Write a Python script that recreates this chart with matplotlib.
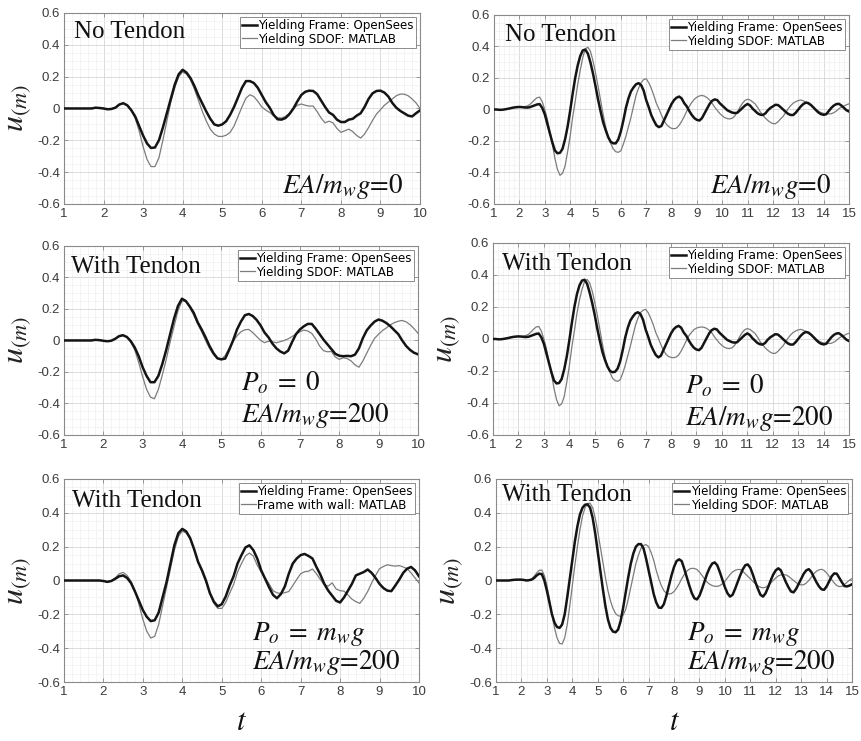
"""
Displacement response u(t): yielding frame (OpenSees) vs. yielding SDOF (MATLAB),
without and with the tendon, for two ground motions (left: 10 s, right: 15 s).
"""
import numpy as np
import matplotlib
matplotlib.use("Agg")
import matplotlib.pyplot as plt
from matplotlib.ticker import MultipleLocator, FuncFormatter

plt.rcParams["mathtext.fontset"] = "stix"

# --------------------------------------------------------------------------- #
# data read off the figure (sampled every 0.1 s)
# --------------------------------------------------------------------------- #
T_SHORT = np.round(np.arange(1.0, 10.001, 0.1), 1)   # 91 samples
T_LONG = np.round(np.arange(1.0, 15.001, 0.1), 1)    # 141 samples

# left column, record 1
OS_1 = [0, 0, 0, 0, 0, 0, 0, 0, 0.005, 0.003,
        0.0, -0.005, -0.003, 0.005, 0.025, 0.033, 0.02, -0.01, -0.05, -0.11,
        -0.17, -0.22, -0.248, -0.245, -0.2, -0.12, -0.03, 0.06, 0.15, 0.215,
        0.243, 0.225, 0.19, 0.14, 0.08, 0.03, -0.02, -0.065, -0.1, -0.108,
        -0.1, -0.08, -0.04, 0.01, 0.07, 0.13, 0.172, 0.172, 0.16, 0.13,
        0.085, 0.04, 0.005, -0.04, -0.068, -0.07, -0.06, -0.035, 0.0, 0.045,
        0.085, 0.105, 0.112, 0.11, 0.09, 0.05, 0.01, -0.025, -0.04, -0.07,
        -0.085, -0.085, -0.07, -0.065, -0.045, -0.03, 0.01, 0.06, 0.095, 0.11,
        0.112, 0.1, 0.075, 0.035, 0.005, -0.015, -0.03, -0.045, -0.05, -0.03,
        -0.012]
SD_1 = [0, 0, 0, 0, 0, 0, 0, 0, 0.003, 0.002,
        0.0, -0.004, -0.002, 0.006, 0.025, 0.033, 0.02, -0.01, -0.06, -0.14,
        -0.24, -0.32, -0.365, -0.365, -0.31, -0.2, -0.08, 0.04, 0.13, 0.2,
        0.23, 0.215, 0.18, 0.12, 0.05, -0.02, -0.08, -0.13, -0.16, -0.175,
        -0.176, -0.168, -0.15, -0.11, -0.05, 0.01, 0.065, 0.086, 0.075, 0.045,
        0.01, -0.01, -0.025, -0.045, -0.058, -0.06, -0.05, -0.03, 0.0, 0.02,
        0.028, 0.02, 0.015, 0.015, -0.02, -0.06, -0.09, -0.08, -0.09, -0.125,
        -0.15, -0.14, -0.13, -0.145, -0.17, -0.186, -0.16, -0.12, -0.075, -0.035,
        -0.008, 0.02, 0.04, 0.06, 0.08, 0.09, 0.09, 0.08, 0.06, 0.035,
        0.0]

# left column, with tendon, Po = 0
OS_2 = [0, 0, 0, 0, 0, 0, 0, 0, 0.004, 0.002,
        -0.002, -0.005, -0.002, 0.01, 0.027, 0.033, 0.022, -0.005, -0.045, -0.1,
        -0.17, -0.225, -0.265, -0.265, -0.225, -0.15, -0.06, 0.04, 0.14, 0.22,
        0.265, 0.25, 0.215, 0.175, 0.115, 0.07, 0.02, -0.035, -0.08, -0.113,
        -0.12, -0.115, -0.06, 0.0, 0.07, 0.12, 0.16, 0.168, 0.155, 0.13,
        0.095, 0.05, 0.02, -0.02, -0.05, -0.07, -0.082, -0.065, -0.01, 0.04,
        0.07, 0.09, 0.105, 0.105, 0.075, 0.04, 0.005, -0.025, -0.055, -0.085,
        -0.097, -0.1, -0.098, -0.1, -0.09, -0.05, 0.015, 0.065, 0.095, 0.12,
        0.133, 0.125, 0.11, 0.09, 0.065, 0.04, 0.0, -0.035, -0.06, -0.078,
        -0.088]
SD_2 = [0, 0, 0, 0, 0, 0, 0, 0, 0.003, 0.002,
        -0.002, -0.005, -0.002, 0.01, 0.03, 0.035, 0.022, -0.01, -0.06, -0.14,
        -0.23, -0.31, -0.36, -0.37, -0.31, -0.22, -0.12, -0.01, 0.09, 0.19,
        0.25, 0.248, 0.21, 0.16, 0.105, 0.055, 0.0, -0.05, -0.09, -0.115,
        -0.123, -0.095, -0.05, -0.005, 0.03, 0.055, 0.068, 0.07, 0.05, 0.025,
        0.0, -0.014, -0.005, -0.008, -0.015, -0.007, 0.0, 0.01, 0.025, 0.04,
        0.056, 0.066, 0.06, 0.045, 0.01, -0.035, -0.065, -0.072, -0.07, -0.105,
        -0.12, -0.11, -0.115, -0.13, -0.155, -0.17, -0.13, -0.08, -0.03, 0.014,
        0.04, 0.063, 0.08, 0.1, 0.113, 0.122, 0.127, 0.118, 0.1, 0.075,
        0.046]

# left column, with tendon, Po = mw g  (second curve: frame with wall)
OS_3 = [0, 0, 0, 0, 0, 0, 0, 0, 0, 0,
        -0.003, -0.008, -0.003, 0.01, 0.025, 0.03, 0.015, -0.015, -0.065, -0.12,
        -0.175, -0.215, -0.24, -0.235, -0.19, -0.1, -0.01, 0.1, 0.21, 0.28,
        0.305, 0.29, 0.25, 0.185, 0.11, 0.06, 0.0, -0.075, -0.125, -0.153,
        -0.14, -0.095, -0.03, 0.025, 0.1, 0.15, 0.195, 0.208, 0.18, 0.13,
        0.06, 0.01, -0.04, -0.085, -0.105, -0.08, -0.035, 0.04, 0.1, 0.13,
        0.15, 0.157, 0.145, 0.13, 0.08, 0.035, -0.02, -0.06, -0.09, -0.12,
        -0.13, -0.1, -0.06, -0.02, 0.03, 0.04, 0.05, 0.065, 0.045, 0.015,
        -0.02, -0.045, -0.06, -0.063, -0.03, 0.005, 0.045, 0.07, 0.08, 0.06,
        0.025]
WALL_3 = [0, 0, 0, 0, 0, 0, 0, 0, 0, 0,
          -0.003, -0.008, -0.002, 0.015, 0.04, 0.048, 0.03, -0.005, -0.06, -0.14,
          -0.23, -0.3, -0.34, -0.33, -0.26, -0.15, -0.04, 0.07, 0.18, 0.26,
          0.292, 0.28, 0.245, 0.18, 0.11, 0.05, -0.01, -0.08, -0.135, -0.165,
          -0.165, -0.13, -0.075, -0.024, 0.05, 0.1, 0.145, 0.162, 0.145, 0.09,
          0.05, 0.015, -0.02, -0.06, -0.073, -0.076, -0.072, -0.065, -0.03, 0.006,
          0.04, 0.052, 0.055, 0.068, 0.04, 0.006, -0.025, -0.033, -0.014, -0.05,
          -0.06, -0.063, -0.085, -0.11, -0.125, -0.135, -0.105, -0.065, -0.015, 0.03,
          0.07, 0.083, 0.093, 0.088, 0.085, 0.088, 0.08, 0.07, 0.045, 0.015,
          -0.014]

# right column, record 2
OS_4 = [0.0, 0.0, -0.002, -0.002, 0.0, 0.003, 0.006, 0.01, 0.013, 0.015,
        0.016, 0.015, 0.013, 0.012, 0.014, 0.02, 0.026, 0.032, 0.034, 0.01,
        -0.03, -0.09, -0.15, -0.21, -0.26, -0.278, -0.275, -0.25, -0.19, -0.11,
        -0.01, 0.1, 0.2, 0.28, 0.34, 0.375, 0.38, 0.355, 0.3, 0.23,
        0.15, 0.065, -0.01, -0.08, -0.13, -0.175, -0.205, -0.215, -0.215, -0.19,
        -0.14, -0.07, 0.01, 0.07, 0.115, 0.14, 0.16, 0.167, 0.155, 0.12,
        0.06, 0.015, -0.035, -0.07, -0.1, -0.112, -0.105, -0.07, -0.034, 0.0,
        0.035, 0.06, 0.075, 0.082, 0.07, 0.04, 0.02, -0.01, -0.035, -0.055,
        -0.066, -0.07, -0.055, -0.025, 0.005, 0.035, 0.055, 0.064, 0.06, 0.04,
        0.025, 0.01, -0.005, -0.013, -0.02, -0.023, -0.02, -0.005, 0.01, 0.025,
        0.035, 0.025, 0.005, -0.01, -0.025, -0.033, -0.035, -0.025, -0.005, 0.01,
        0.02, 0.03, 0.028, 0.015, 0.0, -0.015, -0.028, -0.035, -0.035, -0.02,
        0.0, 0.02, 0.035, 0.044, 0.04, 0.028, 0.012, -0.005, -0.02, -0.03,
        -0.034, -0.03, -0.01, 0.01, 0.025, 0.034, 0.036, 0.025, 0.01, -0.005,
        -0.013]
SD_4 = [0.0, 0.0, -0.002, -0.002, 0.0, 0.003, 0.006, 0.01, 0.013, 0.015,
        0.016, 0.016, 0.018, 0.022, 0.03, 0.045, 0.062, 0.075, 0.078, 0.05,
        0.0, -0.06, -0.14, -0.22, -0.31, -0.38, -0.418, -0.405, -0.36, -0.27,
        -0.17, -0.05, 0.05, 0.16, 0.25, 0.33, 0.385, 0.395, 0.37, 0.31,
        0.235, 0.15, 0.06, -0.03, -0.11, -0.17, -0.215, -0.25, -0.268, -0.272,
        -0.262, -0.22, -0.17, -0.11, -0.05, 0.02, 0.09, 0.135, 0.17, 0.19,
        0.195, 0.17, 0.135, 0.09, 0.04, 0.005, -0.035, -0.07, -0.095, -0.11,
        -0.12, -0.122, -0.118, -0.1, -0.075, -0.045, -0.01, 0.02, 0.045, 0.065,
        0.078, 0.086, 0.089, 0.085, 0.075, 0.06, 0.04, 0.015, -0.005, -0.025,
        -0.04, -0.052, -0.058, -0.06, -0.055, -0.04, -0.015, 0.015, 0.04, 0.058,
        0.065, 0.06, 0.048, 0.035, 0.012, -0.015, -0.035, -0.055, -0.07, -0.082,
        -0.09, -0.09, -0.078, -0.06, -0.044, -0.02, 0.005, 0.025, 0.04, 0.05,
        0.057, 0.06, 0.055, 0.045, 0.035, 0.025, 0.015, 0.0, -0.012, -0.02,
        -0.025, -0.028, -0.028, -0.027, -0.02, -0.01, 0.005, 0.015, 0.022, 0.03,
        0.036]

# right column, with tendon, Po = 0
OS_5 = [0.0, 0.0, -0.002, -0.002, 0.0, 0.003, 0.006, 0.01, 0.013, 0.015,
        0.016, 0.015, 0.013, 0.012, 0.014, 0.02, 0.026, 0.032, 0.034, 0.01,
        -0.03, -0.09, -0.15, -0.21, -0.26, -0.278, -0.275, -0.25, -0.19, -0.11,
        -0.01, 0.1, 0.2, 0.28, 0.335, 0.365, 0.37, 0.345, 0.29, 0.225,
        0.15, 0.065, -0.01, -0.08, -0.13, -0.172, -0.2, -0.208, -0.205, -0.185,
        -0.14, -0.07, 0.01, 0.07, 0.115, 0.14, 0.16, 0.167, 0.155, 0.12,
        0.06, 0.015, -0.035, -0.07, -0.1, -0.115, -0.105, -0.07, -0.034, 0.0,
        0.035, 0.06, 0.075, 0.082, 0.07, 0.04, 0.02, -0.01, -0.035, -0.055,
        -0.066, -0.07, -0.055, -0.025, 0.005, 0.035, 0.055, 0.064, 0.06, 0.04,
        0.025, 0.01, -0.005, -0.013, -0.02, -0.023, -0.02, -0.005, 0.01, 0.025,
        0.035, 0.025, 0.005, -0.01, -0.025, -0.033, -0.035, -0.025, -0.005, 0.01,
        0.02, 0.03, 0.028, 0.015, 0.0, -0.015, -0.028, -0.035, -0.035, -0.02,
        0.0, 0.02, 0.035, 0.044, 0.04, 0.028, 0.012, -0.005, -0.02, -0.03,
        -0.034, -0.03, -0.01, 0.01, 0.025, 0.034, 0.036, 0.025, 0.01, -0.005,
        -0.013]
SD_5 = [0.0, 0.0, -0.002, -0.002, 0.0, 0.003, 0.006, 0.01, 0.013, 0.015,
        0.016, 0.016, 0.018, 0.022, 0.03, 0.045, 0.062, 0.075, 0.078, 0.05,
        0.0, -0.06, -0.14, -0.22, -0.31, -0.38, -0.418, -0.405, -0.36, -0.27,
        -0.17, -0.05, 0.05, 0.16, 0.245, 0.31, 0.36, 0.372, 0.35, 0.3,
        0.23, 0.15, 0.06, -0.03, -0.11, -0.17, -0.21, -0.245, -0.26, -0.265,
        -0.255, -0.215, -0.165, -0.105, -0.045, 0.02, 0.085, 0.13, 0.165, 0.18,
        0.185, 0.165, 0.13, 0.09, 0.04, 0.005, -0.035, -0.07, -0.095, -0.11,
        -0.115, -0.117, -0.113, -0.1, -0.075, -0.045, -0.01, 0.02, 0.04, 0.058,
        0.068, 0.073, 0.075, 0.073, 0.066, 0.055, 0.04, 0.015, -0.005, -0.025,
        -0.04, -0.052, -0.058, -0.06, -0.055, -0.04, -0.015, 0.015, 0.04, 0.058,
        0.065, 0.06, 0.048, 0.035, 0.012, -0.015, -0.035, -0.055, -0.07, -0.082,
        -0.09, -0.09, -0.078, -0.06, -0.044, -0.02, 0.005, 0.025, 0.04, 0.05,
        0.057, 0.06, 0.055, 0.045, 0.035, 0.025, 0.015, 0.0, -0.012, -0.02,
        -0.025, -0.028, -0.028, -0.027, -0.02, -0.01, 0.005, 0.015, 0.022, 0.03,
        0.036]

# right column, with tendon, Po = mw g
OS_6 = [0.0, 0.0, 0.0, 0.0, 0.0, 0.0, 0.002, 0.004, 0.005, 0.005,
        0.005, 0.003, 0.0, 0.002, 0.005, 0.015, 0.03, 0.04, 0.038, 0.0,
        -0.06, -0.13, -0.2, -0.25, -0.275, -0.28, -0.26, -0.2, -0.1, 0.01,
        0.12, 0.23, 0.32, 0.39, 0.43, 0.448, 0.45, 0.43, 0.37, 0.28,
        0.17, 0.06, -0.05, -0.15, -0.23, -0.28, -0.302, -0.306, -0.29, -0.24,
        -0.16, -0.07, 0.02, 0.1, 0.16, 0.2, 0.215, 0.215, 0.19, 0.13,
        0.06, -0.01, -0.08, -0.13, -0.16, -0.162, -0.14, -0.09, -0.03, 0.03,
        0.08, 0.115, 0.125, 0.115, 0.07, 0.02, -0.03, -0.075, -0.105, -0.112,
        -0.09, -0.05, -0.005, 0.04, 0.075, 0.1, 0.107, 0.09, 0.05, 0.005,
        -0.04, -0.075, -0.095, -0.085, -0.05, -0.01, 0.03, 0.065, 0.09, 0.095,
        0.075, 0.035, -0.01, -0.05, -0.085, -0.095, -0.075, -0.04, 0.0, 0.035,
        0.06, 0.072, 0.06, 0.025, -0.01, -0.04, -0.065, -0.07, -0.05, -0.02,
        0.01, 0.04, 0.06, 0.067, 0.05, 0.02, -0.01, -0.035, -0.052, -0.055,
        -0.035, -0.005, 0.025, 0.042, 0.04, 0.015, -0.01, -0.033, -0.035, -0.03,
        -0.022]
SD_6 = [0.0, 0.0, 0.0, 0.0, 0.0, 0.0, 0.002, 0.004, 0.005, 0.005,
        0.005, 0.003, 0.0, 0.003, 0.01, 0.025, 0.045, 0.06, 0.062, 0.03,
        -0.03, -0.11, -0.2, -0.28, -0.34, -0.372, -0.375, -0.34, -0.26, -0.15,
        -0.03, 0.09, 0.2, 0.3, 0.38, 0.43, 0.455, 0.457, 0.43, 0.37,
        0.29, 0.2, 0.11, 0.02, -0.06, -0.12, -0.165, -0.195, -0.208, -0.212,
        -0.205, -0.17, -0.11, -0.04, 0.03, 0.1, 0.15, 0.19, 0.207, 0.212,
        0.2, 0.165, 0.12, 0.06, 0.01, -0.03, -0.06, -0.075, -0.08, -0.077,
        -0.065, -0.045, -0.02, 0.01, 0.035, 0.055, 0.067, 0.072, 0.071, 0.065,
        0.05, 0.03, 0.01, -0.01, -0.022, -0.03, -0.034, -0.035, -0.03, -0.02,
        -0.005, 0.015, 0.035, 0.05, 0.06, 0.065, 0.065, 0.055, 0.04, 0.025,
        0.01, -0.005, -0.02, -0.032, -0.04, -0.043, -0.04, -0.03, -0.015, 0.0,
        0.015, 0.027, 0.033, 0.035, 0.033, 0.025, 0.012, 0.0, -0.012, -0.022,
        -0.026, -0.025, -0.015, 0.0, 0.02, 0.04, 0.055, 0.063, 0.066, 0.06,
        0.045, 0.025, 0.005, -0.015, -0.03, -0.036, -0.035, -0.025, -0.01, 0.002,
        0.012]

OS_LABEL = "Yielding Frame: OpenSees"
SD_LABEL = "Yielding SDOF: MATLAB"
WALL_LABEL = "Frame with wall: MATLAB"

NOTE_NONE = r"$EA/m_w g$=0"
NOTE_P0 = r"$P_o\;=\;0$"
NOTE_PMG = r"$P_o\;=\;m_w g$"
NOTE_EA = r"$EA/m_w g$=200"

BLACK = "#141414"
GREY = "#7c7c7c"
TICK_C = "#3c3c3c"


def fmt_tick(v, _):
    s = f"{round(v, 1):g}"
    return "0" if s == "-0" else s


def draw_panel(ax, t, u_os, u_sd, sd_label, xmax, title, title_xy, notes,
               ylabel=True, xlabel=False):
    ax.plot(t, u_os, color=BLACK, lw=1.8, label=OS_LABEL, zorder=3)
    ax.plot(t, u_sd, color=GREY, lw=0.9, label=sd_label, zorder=2)
    ax.set_xlim(1, xmax)
    ax.set_ylim(-0.6, 0.6)
    ax.xaxis.set_major_locator(MultipleLocator(1))
    ax.xaxis.set_minor_locator(MultipleLocator(0.2))
    ax.yaxis.set_major_locator(MultipleLocator(0.2))
    ax.yaxis.set_minor_locator(MultipleLocator(0.05))
    ax.yaxis.set_major_formatter(FuncFormatter(fmt_tick))
    ax.grid(which="major", color="#d6d6d6", lw=0.6)
    ax.grid(which="minor", color="#ededed", lw=0.4)
    ax.set_axisbelow(True)
    ax.tick_params(which="both", direction="in", top=True, right=True,
                   colors="#8a8a8a", labelcolor=TICK_C, labelsize=9.5)
    ax.tick_params(which="major", length=3, width=0.6, pad=3)
    ax.tick_params(which="minor", length=0)
    for lab in ax.get_xticklabels() + ax.get_yticklabels():
        lab.set_family("Liberation Sans")
    for sp in ax.spines.values():
        sp.set_color("#8a8a8a")
        sp.set_linewidth(0.8)

    leg = ax.legend(loc="upper right", prop={"family": "DejaVu Sans", "size": 8.6},
                    fancybox=False, framealpha=1, edgecolor="#7a7a7a",
                    borderpad=0.2, labelspacing=0.05, handlelength=1.2,
                    handletextpad=0.15, borderaxespad=0.3)
    leg.get_frame().set_linewidth(0.6)

    ax.text(title_xy[0], title_xy[1], title, transform=ax.transAxes,
            family="Liberation Serif", fontsize=18, color="#111111")
    for (x, y, s, ha) in notes:
        ax.text(x, y, s, transform=ax.transAxes, family="STIXGeneral",
                fontsize=19.5, color="#111111", ha=ha)

    if ylabel:
        ax.set_ylabel(r"$u_{(m)}$", fontsize=23, color="#222222")
        ax.yaxis.set_label_coords(-0.088, 0.5)
    if xlabel:
        ax.set_xlabel(r"$t$", fontsize=22, color="#111111")
        ax.xaxis.set_label_coords(0.5, -0.125)


fig = plt.figure(figsize=(8.61, 7.41), dpi=100)

ax1 = fig.add_axes([0.0743, 0.7247, 0.4135, 0.2578])
ax2 = fig.add_axes([0.5738, 0.7247, 0.4123, 0.2551])
ax3 = fig.add_axes([0.0743, 0.4130, 0.4111, 0.2551])
ax4 = fig.add_axes([0.5726, 0.4130, 0.4135, 0.2591])
ax5 = fig.add_axes([0.0743, 0.0796, 0.4123, 0.2740])
ax6 = fig.add_axes([0.5761, 0.0796, 0.4135, 0.2740])

draw_panel(ax1, T_SHORT, OS_1, SD_1, SD_LABEL, 10, "No Tendon", (0.028, 0.87),
           [(0.952, 0.058, NOTE_NONE, "right")])
draw_panel(ax2, T_LONG, OS_4, SD_4, SD_LABEL, 15, "No Tendon", (0.031, 0.864),
           [(0.951, 0.058, NOTE_NONE, "right")], ylabel=False)
draw_panel(ax3, T_SHORT, OS_2, SD_2, SD_LABEL, 10, "With Tendon", (0.019, 0.855),
           [(0.5, 0.238, NOTE_P0, "left"), (0.5, 0.07, NOTE_EA, "left")])
draw_panel(ax4, T_LONG, OS_5, SD_5, SD_LABEL, 15, "With Tendon", (0.024, 0.859),
           [(0.539, 0.217, NOTE_P0, "left"), (0.539, 0.052, NOTE_EA, "left")])
draw_panel(ax5, T_SHORT, OS_3, WALL_3, WALL_LABEL, 10, "With Tendon", (0.024, 0.863),
           [(0.529, 0.205, NOTE_PMG, "left"), (0.529, 0.062, NOTE_EA, "left")],
           xlabel=True)
draw_panel(ax6, T_LONG, OS_6, SD_6, SD_LABEL, 15, "With Tendon", (0.016, 0.893),
           [(0.536, 0.205, NOTE_PMG, "left"), (0.536, 0.062, NOTE_EA, "left")],
           xlabel=True)

fig.savefig("out.png", dpi=100, facecolor="white")
